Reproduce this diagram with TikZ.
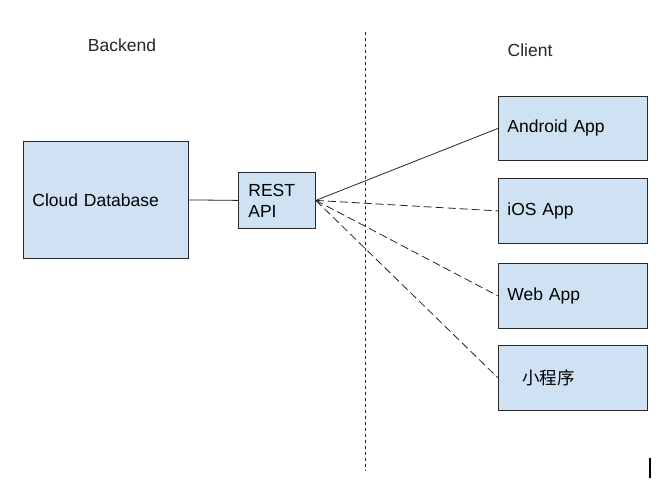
\documentclass[tikz,border=0pt]{standalone}
\usepackage{fontspec}
\setmainfont{Liberation Sans}
\newfontfamily\cjkfont{Noto Sans CJK SC}
\usepackage{tikz}
\usetikzlibrary{positioning, calc}

\definecolor{boxfill}{RGB}{207,226,243}
\definecolor{boxline}{RGB}{40,40,40}

\tikzset{
  box/.style={draw=boxline, fill=boxfill, line width=0.8pt, anchor=north west,
    inner xsep=9pt, inner ysep=0pt, align=left, font=\fontsize{17.5}{21}\selectfont},
  label/.style={font=\fontsize{17.5}{21}\selectfont, text=black!85},
  link/.style={line width=0.8pt, black!85},
  dlink/.style={link, dash pattern=on 8pt off 4pt}
}

\begin{document}
\begin{tikzpicture}[x=1pt,y=-1pt]
\useasboundingbox[fill=white] (0,0) rectangle (669,488);

\node[label] (backend) at (122,45) {Backend};
\node[label] (client) at (530,50) {Client};

\node[box, text width=147pt, minimum height=117pt] (db) at (23,141) {Cloud Database};
\node[box, inner xsep=10pt, text width=57pt, minimum height=56pt] (rest) at (238,172) {REST\\API};

\node[box, text width=131pt, minimum height=64pt] (android) at (498,96) {Android App};
\node[box, text width=131pt, minimum height=65pt] (ios) at (498,178) {iOS App};
\node[box, text width=131pt, minimum height=65pt] (web) at (498,263) {Web App};
\node[box, text width=131pt, minimum height=65pt] (mini) at (498,345) {\hspace{15pt}{\cjkfont 小程序}};

\coordinate (top) at (365,32);
\coordinate (bottom) at (365,471);
\draw[line width=0.8pt, black!85, dash pattern=on 3pt off 3pt] (top) -- (bottom);

\draw[link] (db.east) -- (rest.west);
\draw[link] (rest.east) -- (android.west);
\draw[dlink] (rest.east) -- (ios.west);
\draw[dlink] (rest.east) -- (web.west);
\draw[dlink] (rest.east) -- (mini.west);

\coordinate (c1) at (650,458);
\coordinate (c2) at (650,478);
\draw[line width=1.6pt] (c1) -- (c2);
\end{tikzpicture}
\end{document}
